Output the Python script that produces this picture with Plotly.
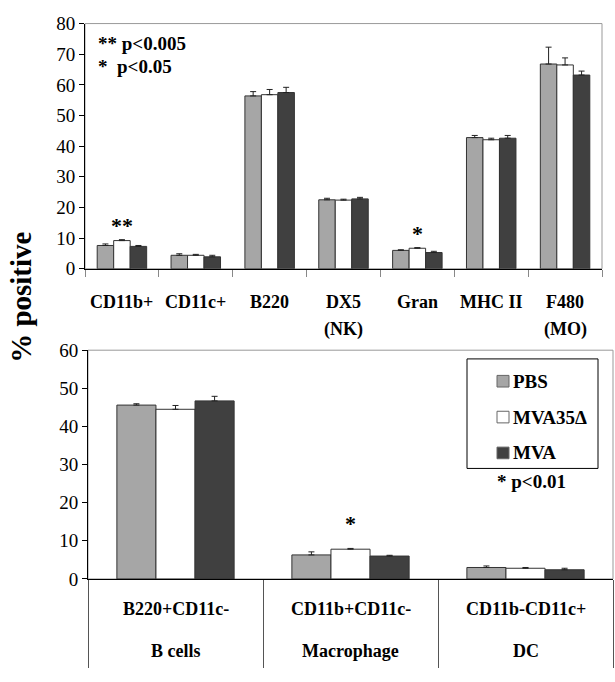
import plotly.graph_objects as go

W, H = 615, 682

# ---------------- data ----------------
series_names = ["PBS", "MVA35Δ", "MVA"]
series_colors = ["#A6A6A6", "#FFFFFF", "#404040"]

top_categories = ["CD11b+", "CD11c+", "B220", "DX5", "Gran", "MHC II", "F480"]
top_sublabels = ["", "", "", "(NK)", "", "", "(MO)"]
top_pbs = [7.6, 4.4, 56.4, 22.5, 6.0, 42.8, 66.8]
top_pbs_err = [0.5, 0.5, 1.4, 0.5, 0.2, 0.7, 5.5]
top_mva35 = [9.2, 4.4, 56.8, 22.4, 6.7, 42.1, 66.5]
top_mva35_err = [0.3, 0.3, 1.7, 0.3, 0.2, 0.5, 2.3]
top_mva = [7.3, 3.9, 57.5, 22.8, 5.3, 42.6, 63.2]
top_mva_err = [0.3, 0.5, 1.7, 0.5, 0.4, 0.9, 1.3]

bot_categories = ["B220+CD11c-", "CD11b+CD11c-", "CD11b-CD11c+"]
bot_sublabels = ["B cells", "Macrophage", "DC"]
bot_pbs = [45.6, 6.3, 3.0]
bot_pbs_err = [0.35, 0.8, 0.4]
bot_mva35 = [44.5, 7.8, 2.8]
bot_mva35_err = [1.0, 0.2, 0.2]
bot_mva = [46.7, 6.0, 2.4]
bot_mva_err = [1.2, 0.2, 0.4]

top_yticks = [0, 10, 20, 30, 40, 50, 60, 70, 80]
bot_yticks = [0, 10, 20, 30, 40, 50, 60]

top_sig = [("CD11b+", "**"), ("Gran", "*")]
bot_sig = [("CD11b+CD11c-", "*")]

FONT = "Liberation Serif"


def px(x):
    return x / W


def py(y):
    return (H - y) / H


fig = go.Figure()

top_vals = [top_pbs, top_mva35, top_mva]
top_errs = [top_pbs_err, top_mva35_err, top_mva_err]
bot_vals = [bot_pbs, bot_mva35, bot_mva]
bot_errs = [bot_pbs_err, bot_mva35_err, bot_mva_err]

for i, name in enumerate(series_names):
    fig.add_trace(go.Bar(
        x=top_categories, y=top_vals[i], name=name,
        marker=dict(color=series_colors[i], line=dict(color="#333333", width=1)),
        error_y=dict(type="data", symmetric=False, array=top_errs[i],
                     arrayminus=[0] * len(top_errs[i]), color="#222222",
                     thickness=1, width=3),
        xaxis="x", yaxis="y", showlegend=False,
    ))
    fig.add_trace(go.Bar(
        x=bot_categories, y=bot_vals[i], name=name,
        marker=dict(color=series_colors[i], line=dict(color="#333333", width=1)),
        error_y=dict(type="data", symmetric=False, array=bot_errs[i],
                     arrayminus=[0] * len(bot_errs[i]), color="#222222",
                     thickness=1, width=3),
        xaxis="x2", yaxis="y2", showlegend=False,
    ))

axis_font = dict(family=FONT, size=19, color="black")

fig.update_layout(
    width=W, height=H,
    margin=dict(l=0, r=0, t=0, b=0),
    paper_bgcolor="white", plot_bgcolor="white",
    barmode="group", bargap=0.33, bargroupgap=0,
    font=dict(family=FONT, color="black"),
    xaxis=dict(domain=[px(85), px(602)], anchor="y", type="category",
               showticklabels=False, ticks="outside", tickson="boundaries",
               ticklen=7, tickcolor="#888888", tickwidth=1,
               showline=True, linecolor="black", linewidth=1,
               showgrid=False, zeroline=False),
    yaxis=dict(domain=[py(267), py(14)], anchor="x", range=[0, 80],
               tickvals=top_yticks, ticks="outside", ticklen=5,
               tickcolor="black", tickfont=axis_font,
               showline=True, linecolor="black", linewidth=1,
               showgrid=False, zeroline=False),
    xaxis2=dict(domain=[px(88), px(613)], anchor="y2", type="category",
                showticklabels=False, ticks="outside", tickson="boundaries",
                ticklen=88, tickcolor="#555555", tickwidth=1,
                showline=True, linecolor="black", linewidth=1,
                showgrid=False, zeroline=False),
    yaxis2=dict(domain=[py(587), py(351)], anchor="x2", range=[0, 60],
                tickvals=bot_yticks, ticks="outside", ticklen=5,
                tickcolor="black", tickfont=axis_font,
                showline=True, linecolor="black", linewidth=1,
                showgrid=False, zeroline=False),
)

shapes = []
# gray frames (top and right edges)
for xr, yr in [("x domain", "y domain"), ("x2 domain", "y2 domain")]:
    shapes.append(dict(type="rect", xref=xr, yref=yr, x0=0, x1=1, y0=0, y1=1,
                       line=dict(color="#999999", width=1), layer="below"))

annotations = []
cat_font = dict(family=FONT, size=18, color="black")
for c, s in zip(top_categories, top_sublabels):
    annotations.append(dict(x=c, xref="x", y=py(301), yref="paper", text=f"<b>{c}</b>",
                            showarrow=False, font=cat_font, yanchor="middle"))
    if s:
        annotations.append(dict(x=c, xref="x", y=py(330), yref="paper", text=f"<b>{s}</b>",
                                showarrow=False, font=cat_font, yanchor="middle"))
for c, s in zip(bot_categories, bot_sublabels):
    annotations.append(dict(x=c, xref="x2", y=py(618), yref="paper", text=f"<b>{c}</b>",
                            showarrow=False, font=cat_font, yanchor="middle"))
    annotations.append(dict(x=c, xref="x2", y=py(661), yref="paper", text=f"<b>{s}</b>",
                            showarrow=False, font=cat_font, yanchor="middle"))

# significance stars over middle (MVA35Δ) bars
star_font = dict(family=FONT, size=22, color="black")
for c, t in top_sig:
    i = top_categories.index(c)
    annotations.append(dict(x=c, xref="x", y=top_mva35[i] + top_mva35_err[i], yref="y",
                            text=f"<b>{t}</b>", showarrow=False, font=star_font,
                            yanchor="bottom", yshift=0))
for c, t in bot_sig:
    i = bot_categories.index(c)
    annotations.append(dict(x=c, xref="x2", y=bot_mva35[i] + bot_mva35_err[i], yref="y2",
                            text=f"<b>{t}</b>", showarrow=False, font=star_font,
                            yanchor="bottom", yshift=10))

note_font = dict(family=FONT, size=19, color="black")
annotations.append(dict(x=px(96), y=py(35), xref="paper", yref="paper",
                        text="<b>** p&lt;0.005</b>", showarrow=False, font=note_font,
                        xanchor="left", yanchor="middle"))
annotations.append(dict(x=px(96), y=py(58), xref="paper", yref="paper",
                        text="<b>*&nbsp; p&lt;0.05</b>", showarrow=False, font=note_font,
                        xanchor="left", yanchor="middle"))

# y title
annotations.append(dict(x=px(21), y=py(297), xref="paper", yref="paper",
                        text="<b>% positive</b>", textangle=-90, showarrow=False,
                        font=dict(family=FONT, size=29, color="black"),
                        xanchor="center", yanchor="middle"))

# manual legend
shapes.append(dict(type="rect", xref="paper", yref="paper",
                   x0=px(467), x1=px(598), y0=py(473), y1=py(360),
                   line=dict(color="black", width=1), fillcolor="white"))
leg_y = [383, 420, 457]
for name, col, yy in zip(series_names, series_colors, leg_y):
    shapes.append(dict(type="rect", xref="paper", yref="paper",
                       x0=px(497), x1=px(509), y0=py(yy + 6), y1=py(yy - 6),
                       line=dict(color="#666666", width=1), fillcolor=col))
    annotations.append(dict(x=px(511), y=py(yy), xref="paper", yref="paper",
                            text=f"<b>{name}</b>", showarrow=False,
                            font=dict(family=FONT, size=19, color="black"),
                            xanchor="left", yanchor="middle"))
annotations.append(dict(x=px(495), y=py(486), xref="paper", yref="paper",
                        text="<b>* p&lt;0.01</b>", showarrow=False,
                        font=dict(family=FONT, size=19, color="black"),
                        xanchor="left", yanchor="middle"))

fig.update_layout(shapes=shapes, annotations=annotations)

fig.write_html("out.html",
               config={"displayModeBar": False},
               post_script="document.body.style.margin='0';document.body.style.overflow='hidden';")
